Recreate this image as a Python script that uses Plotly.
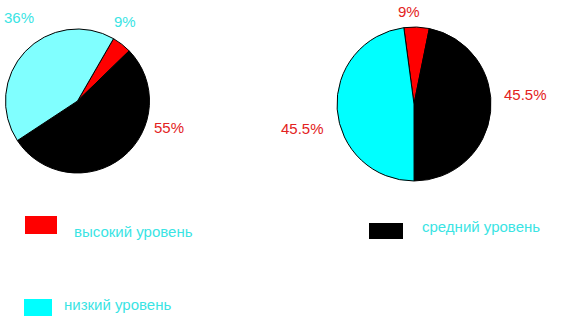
import plotly.graph_objects as go

W, H = 567, 331

categories = ["высокий уровень", "средний уровень", "низкий уровень"]
# slice sizes as drawn in the picture (estimated, %)
pie1_values = [4.4, 53.0, 42.6]
pie2_values = [5.3, 46.8, 47.9]
# percentage labels as printed on the picture
pie1_labels = ["9%", "55%", "36%"]
pie2_labels = ["9%", "45.5%", "45.5%"]

pie1_colors = ["#ff0000", "#000000", "#80ffff"]
pie2_colors = ["#ff0000", "#000000", "#00ffff"]
legend_colors = ["#ff0000", "#000000", "#00ffff"]
red_txt = "#e32222"
cyan_txt = "#3ae4e4"
FONT = "Liberation Sans, Arial, sans-serif"


def px(x):
    return x / W


def py(y):
    return 1 - y / H


def dom(cx, cy, r):
    return dict(x=[px(cx - r), px(cx + r)], y=[py(cy + r), py(cy - r)])


fig = go.Figure()
fig.add_trace(go.Pie(
    labels=categories, values=pie1_values, sort=False, direction="clockwise",
    rotation=30, textinfo="none", hoverinfo="label+percent",
    marker=dict(colors=pie1_colors, line=dict(color="#000000", width=1)),
    domain=dom(77.5, 101, 72), showlegend=False,
))
fig.add_trace(go.Pie(
    labels=categories, values=pie2_values, sort=False, direction="clockwise",
    rotation=-7.6, textinfo="none", hoverinfo="label+percent",
    marker=dict(colors=pie2_colors, line=dict(color="#000000", width=1)),
    domain=dom(414, 104, 77), showlegend=False,
))

annotations = []
# pie 1 labels: red, black, cyan slices
pie1_pos = [(125, 21, cyan_txt), (169, 127, red_txt), (19, 18, cyan_txt)]
for t, (x, y, c) in zip(pie1_labels, pie1_pos):
    annotations.append(dict(x=px(x), y=py(y), xref="paper", yref="paper", text=t,
                            showarrow=False, xanchor="center", yanchor="middle",
                            font=dict(family=FONT, size=15, color=c)))
pie2_pos = [(409, 11, red_txt), (525, 94, red_txt), (302, 128, red_txt)]
for t, (x, y, c) in zip(pie2_labels, pie2_pos):
    annotations.append(dict(x=px(x), y=py(y), xref="paper", yref="paper", text=t,
                            showarrow=False, xanchor="center", yanchor="middle",
                            font=dict(family=FONT, size=15, color=c)))

# custom legend: boxes and labels
legend_boxes = [(25, 216, 57, 234), (369, 223, 403, 239), (24, 299, 52, 316)]
legend_text_pos = [(72, 231), (420, 226), (62, 304)]
shapes = []
for (x0, y0, x1, y1), c in zip(legend_boxes, legend_colors):
    shapes.append(dict(type="rect", xref="paper", yref="paper",
                       x0=px(x0), x1=px(x1), y0=py(y1), y1=py(y0),
                       fillcolor=c, line=dict(width=0)))
for name, (x, y) in zip(categories, legend_text_pos):
    annotations.append(dict(x=px(x), y=py(y), xref="paper", yref="paper", text=name,
                            showarrow=False, xanchor="left", yanchor="middle",
                            font=dict(family=FONT, size=15, color=cyan_txt)))

fig.update_layout(
    width=W, height=H, margin=dict(l=0, r=0, t=0, b=0),
    paper_bgcolor="#ffffff", plot_bgcolor="#ffffff",
    annotations=annotations, shapes=shapes, showlegend=False,
)
fig.write_html("out.html")
